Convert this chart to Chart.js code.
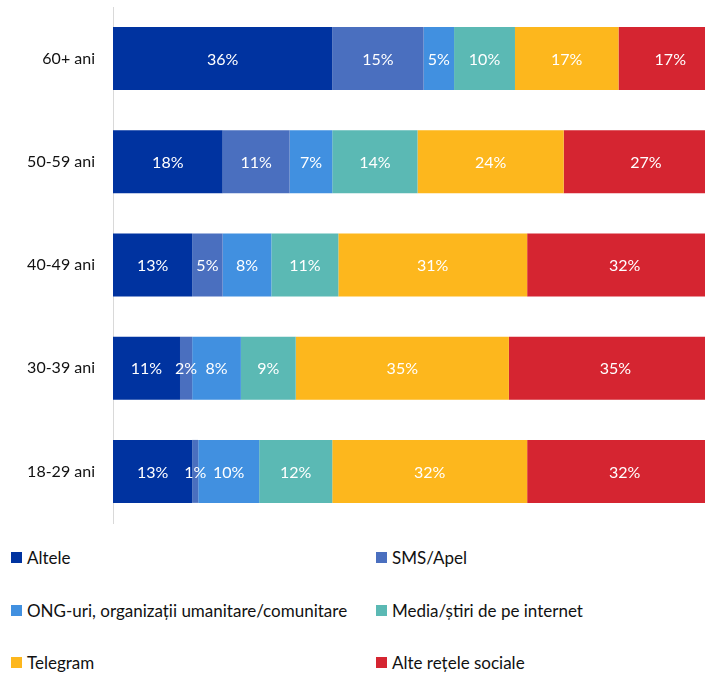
<!DOCTYPE html>
<html>
<head>
<meta charset="utf-8">
<script src="https://cdn.jsdelivr.net/npm/chart.js@4"></script>
<style>
  html, body { margin: 0; padding: 0; background: #fff; }
  body { width: 712px; height: 674px; overflow: hidden; position: relative; font-family: Lato, "Open Sans", sans-serif; }
  #wrap { position: absolute; left: 0; top: 0; width: 712px; height: 530px; }
  #legend { position: absolute; left: 0; top: 0; width: 712px; }
  .item { position: absolute; display: flex; align-items: center; font-size: 17px; color: #111; white-space: nowrap; height: 20px; }
  .item span.box { display: inline-block; width: 11px; height: 11px; margin-right: 5px; }
</style>
</head>
<body>
<div id="wrap"><canvas id="chart"></canvas></div>
<div id="legend"></div>
<script>
// categorii (de sus in jos)
const ageGroups = ['60+ ani', '50-59 ani', '40-49 ani', '30-39 ani', '18-29 ani'];

// valori pe serii (%), in ordinea grupelor de varsta
const altele   = [36, 18, 13, 11, 13];
const smsApel  = [15, 11, 5, 2, 1];
const ong      = [5, 7, 8, 8, 10];
const media    = [10, 14, 11, 9, 12];
const telegram = [17, 24, 31, 35, 32];
const alteRetele = [17, 27, 32, 35, 32];

const seriesNames = ['Altele', 'SMS/Apel', 'ONG-uri, organizații umanitare/comunitare',
  'Media/știri de pe internet', 'Telegram', 'Alte rețele sociale'];
const seriesColors = ['#0033a0', '#4a6fbf', '#4190e0', '#5bb9b4', '#fdb71d', '#d52531'];
const seriesData = [altele, smsApel, ong, media, telegram, alteRetele];

// etichete in interiorul barelor
const barLabels = {
  id: 'barLabels',
  afterDatasetsDraw(chart) {
    const ctx = chart.ctx;
    ctx.save();
    ctx.fillStyle = '#fff';
    ctx.font = '16px Lato, "Open Sans", sans-serif';
    ctx.textAlign = 'center';
    ctx.textBaseline = 'middle';
    chart.data.datasets.forEach((ds, i) => {
      chart.getDatasetMeta(i).data.forEach((bar, j) => {
        const cx = (bar.x + bar.base) / 2;
        ctx.fillText(ds.data[j] + '%', cx, bar.y + 1);
      });
    });
    ctx.restore();
  }
};

new Chart(document.getElementById('chart'), {
  type: 'bar',
  data: {
    labels: ageGroups,
    datasets: seriesData.map((d, i) => ({
      label: seriesNames[i],
      data: d,
      backgroundColor: seriesColors[i],
      borderWidth: 0,
      barPercentage: 0.61,
      categoryPercentage: 1
    }))
  },
  options: {
    indexAxis: 'y',
    responsive: true,
    maintainAspectRatio: false,
    animation: false,
    layout: { padding: { top: 7, bottom: 7, left: 0, right: 7 } },
    plugins: { legend: { display: false }, tooltip: { enabled: false } },
    scales: {
      x: { stacked: true, display: false, min: 0, max: 97.2 },
      y: {
        stacked: true,
        grid: { display: false, drawTicks: false },
        border: { display: true, color: '#d9d9d9', width: 1 },
        ticks: { color: '#111', padding: 18, font: { family: 'Lato, "Open Sans", sans-serif', size: 16 } },
        afterFit(scale) {
          scale.width = 113;
          scale.paddingTop = 0;
          scale.paddingBottom = 0;
        }
      }
    }
  },
  plugins: [barLabels]
});

// legenda pe doua coloane
const legend = document.getElementById('legend');
const colX = [11, 376];
const rowY = [557, 610, 662];
seriesNames.forEach((name, i) => {
  const el = document.createElement('div');
  el.className = 'item';
  el.style.left = colX[i % 2] + 'px';
  el.style.top = (rowY[Math.floor(i / 2)] - 10) + 'px';
  el.innerHTML = '<span class="box" style="background:' + seriesColors[i] + '"></span>' + name;
  legend.appendChild(el);
});
</script>
</body>
</html>
